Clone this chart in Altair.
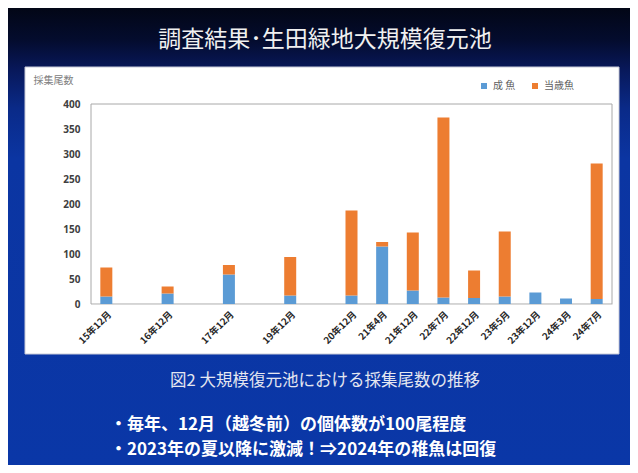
import altair as alt
import pandas as pd

# ---- data ----
slots = ["15年12月", " ", "16年12月", "  ", "17年12月", "   ", "19年12月", "    ",
         "20年12月", "21年4月", "21年12月", "22年7月", "22年12月", "23年5月",
         "23年12月", "24年3月", "24年7月"]
categories = ["15年12月", "16年12月", "17年12月", "19年12月", "20年12月", "21年4月",
              "21年12月", "22年7月", "22年12月", "23年5月", "23年12月", "24年3月", "24年7月"]
adult = [15, 21, 59, 17, 17, 115, 27, 13, 12, 15, 23, 11, 10]
juvenile = [58, 14, 19, 77, 170, 9, 116, 360, 55, 130, 0, 0, 271]
series_names = ["成 魚", "当歳魚"]
series_colors = ["#5b9bd5", "#ed7d31"]
y_ticks = [0, 50, 100, 150, 200, 250, 300, 350, 400]

title_text = "調査結果･生田緑地大規模復元池"
axis_title = "採集尾数"
caption_text = "図2  大規模復元池における採集尾数の推移"
bullet1 = "・毎年、12月（越冬前）の個体数が100尾程度"
bullet2 = "・2023年の夏以降に激減！⇒2024年の稚魚は回復"

rows = []
for c, a, j in zip(categories, adult, juvenile):
    rows.append({"cat": c, "series": series_names[0], "value": a, "ord": 0})
    rows.append({"cat": c, "series": series_names[1], "value": j, "ord": 1})
df = pd.DataFrame(rows)

W, H = 521, 200
JP = "Noto Sans CJK JP"
one = pd.DataFrame({"k": [0]})

# slide background with gradient
slide = alt.Chart(one).mark_rect(
    color=alt.Gradient(
        gradient="linear",
        stops=[
            alt.GradientStop(color="#020616", offset=0),
            alt.GradientStop(color="#040c2e", offset=0.07),
            alt.GradientStop(color="#08185a", offset=0.135),
            alt.GradientStop(color="#0a2a88", offset=0.22),
            alt.GradientStop(color="#0b35a2", offset=0.33),
            alt.GradientStop(color="#0a37a7", offset=1),
        ],
        x1=0, x2=0, y1=0, y2=1,
    )
).encode(x=alt.value(-83), x2=alt.value(539), y=alt.value(-96), y2=alt.value(361))

panel = alt.Chart(one).mark_rect(color="white", stroke="#c8cad8", strokeWidth=1).encode(
    x=alt.value(-66), x2=alt.value(528), y=alt.value(-37), y2=alt.value(250)
)

frame = alt.Chart(one).mark_rect(filled=False, stroke="#a8a8a8", strokeWidth=1).encode(
    x=alt.value(0), x2=alt.value(W), y=alt.value(0), y2=alt.value(H)
)

bars = alt.Chart(df).mark_bar(size=12).encode(
    x=alt.X("cat:N", sort=slots,
            scale=alt.Scale(domain=slots, paddingInner=0, paddingOuter=0),
            axis=alt.Axis(title=None, labelAngle=-45, labelFont=JP, labelFontSize=9.5,
                          labelFontWeight="bold", labelColor="#262626", ticks=False,
                          domainColor="#d9d9d9", labelPadding=5, zindex=2)),
    y=alt.Y("value:Q", stack="zero",
            scale=alt.Scale(domain=[0, 400], nice=False),
            axis=alt.Axis(values=y_ticks, title=axis_title, titleAngle=0, titleAlign="left",
                          titleBaseline="middle", titleX=-58, titleY=-24, titleFont=JP,
                          titleFontSize=10, titleFontWeight="normal", titleColor="#808080",
                          labelFont="Noto Sans", labelFontSize=10, labelFontWeight="bold",
                          labelColor="#404040", ticks=False, domain=False, grid=False,
                          labelPadding=11, zindex=2)),
    color=alt.Color("series:N",
                    scale=alt.Scale(domain=series_names, range=series_colors),
                    legend=alt.Legend(title=None, orient="none", legendX=388, legendY=-23,
                                      direction="horizontal", symbolType="square",
                                      symbolSize=36, symbolStrokeWidth=0,
                                      labelFont=JP, labelFontSize=10, labelColor="#606060",
                                      columnPadding=14, zindex=2)),
    order=alt.Order("ord:Q"),
)

def txt(text, x, y, size, color, weight="normal", align="center"):
    return alt.Chart(pd.DataFrame({"t": [text]})).mark_text(
        font=JP, fontSize=size, color=color, fontWeight=weight, align=align,
        baseline="middle"
    ).encode(x=alt.value(x), y=alt.value(y), text="t:N")

title = txt(title_text, 234, -64, 23, "#f0f0f0")
caption = txt(caption_text, 234, 277, 16.5, "#e4e6f0")
b1 = txt(bullet1, 19, 321, 17, "#ffffff", "bold", "left")
b2 = txt(bullet2, 19, 346, 17, "#ffffff", "bold", "left")

chart = alt.layer(slide, panel, frame, bars, title, caption, b1, b2).properties(
    width=W, height=H, padding=0, background="white"
).configure_view(stroke="transparent")

chart.save("out.html", embed_options={"renderer": "svg", "actions": False})
